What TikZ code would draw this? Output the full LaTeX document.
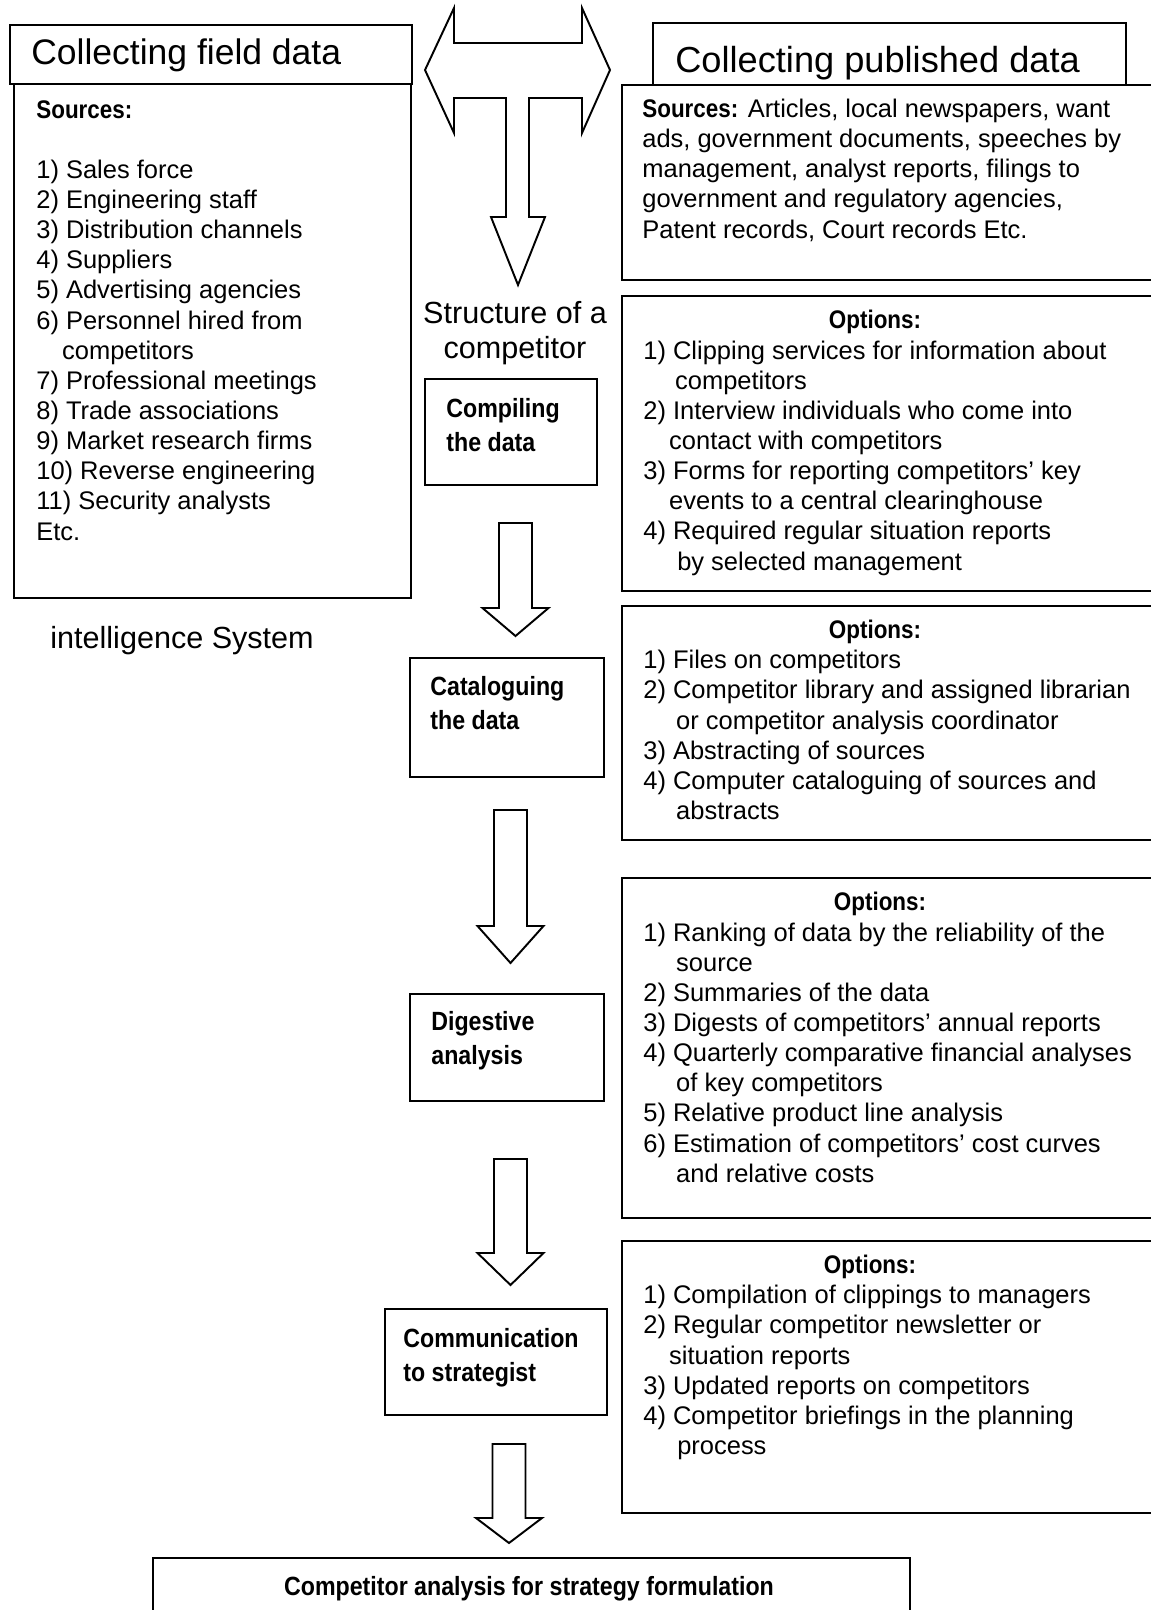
\documentclass[tikz,border=0pt]{standalone}
\usepackage{fontspec}
\setmainfont{Liberation Sans}
\newfontfamily\condfont[FakeStretch=0.88]{Liberation Sans}
\usetikzlibrary{fit}

\begin{document}
\begin{tikzpicture}[x=0.2mm,y=-0.2mm]
\tikzset{
  box/.style={draw,line width=1.1pt,inner sep=0pt},
  listtext/.style={anchor=base west,align=left,inner sep=0pt,font=\fontsize{14.5}{17.15}\selectfont},
  headtext/.style={anchor=base west,inner sep=0pt,font=\fontsize{20.2}{24}\selectfont},
  midtext/.style={anchor=base,align=center,inner sep=0pt,font=\fontsize{17.4}{19.8}\selectfont},
  steptext/.style={anchor=base west,align=left,inner sep=0pt,font=\condfont\bfseries\fontsize{15}{19.3}\selectfont},
  opttitle/.style={anchor=base,inner sep=0pt,font=\condfont\bfseries\fontsize{14.5}{17.15}\selectfont},
  blockarrow/.style={draw,line width=1.1pt,line join=miter,fill=white}
}
\useasboundingbox (0,0) rectangle (1150,1610);
% field data column (multi-line texts sit on their last baseline)
\node[box,fit={(10,25) (412,84)}] (fieldhead) {};
\node[box,fit={(14,84) (411,598)}] (fieldbox) {};
\node[headtext] (fieldtitle) at (31,65) {Collecting field data};
\node[listtext] (fieldlist) at (36,540) {{\condfont\bfseries Sources:}\\[17.15pt]
1) Sales force\\
2) Engineering staff\\
3) Distribution channels\\
4) Suppliers\\
5) Advertising agencies\\
6) Personnel hired from\\
\hspace*{14.7pt}competitors\\
7) Professional meetings\\
8) Trade associations\\
9) Market research firms\\
10) Reverse engineering\\
11) Security analysts\\
Etc.};
\node[midtext,anchor=base west] (intel) at (50,648) {intelligence System};
% published data column
\node[box,fit={(653,23) (1126,85)}] (pubhead) {};
\node[box,fit={(622,85) (1160,280)}] (pubbox) {};
\node[headtext,font=\fontsize{20.6}{24}\selectfont] (pubtitle) at (675,73) {Collecting published data};
\node[listtext] (publist) at (642,238) {{\condfont\bfseries Sources:} Articles, local newspapers, want\\
ads, government documents, speeches by\\
management, analyst reports, filings to\\
government and regulatory agencies,\\
Patent records, Court records Etc.};
% options
\node[box,fit={(622,296) (1160,591)}] (opt1) {};
\node[opttitle] (opt1title) at (875,328) {Options:};
\node[listtext] (opt1list) at (643,570) {1) Clipping services for information about\\
\hspace*{18.1pt}competitors\\
2) Interview individuals who come into\\
\hspace*{14.7pt}contact with competitors\\
3) Forms for reporting competitors’ key\\
\hspace*{14.7pt}events to a central clearinghouse\\
4) Required regular situation reports\\
\hspace*{19.3pt}by selected management};
\node[box,fit={(622,606) (1160,840)}] (opt2) {};
\node[opttitle] (opt2title) at (875,638) {Options:};
\node[listtext] (opt2list) at (643,819.5) {1) Files on competitors\\
2) Competitor library and assigned librarian\\
\hspace*{18.7pt}or competitor analysis coordinator\\
3) Abstracting of sources\\
4) Computer cataloguing of sources and\\
\hspace*{18.7pt}abstracts};
\node[box,fit={(622,878) (1160,1218)}] (opt3) {};
\node[opttitle] (opt3title) at (880,910) {Options:};
\node[listtext] (opt3list) at (643,1182.25) {1) Ranking of data by the reliability of the\\
\hspace*{18.7pt}source\\
2) Summaries of the data\\
3) Digests of competitors’ annual reports\\
4) Quarterly comparative financial analyses\\
\hspace*{18.7pt}of key competitors\\
5) Relative product line analysis\\
6) Estimation of competitors’ cost curves\\
\hspace*{18.7pt}and relative costs};
\node[box,fit={(622,1241) (1160,1513)}] (opt4) {};
\node[opttitle] (opt4title) at (870,1273) {Options:};
\node[listtext] (opt4list) at (643,1454.5) {1) Compilation of clippings to managers\\
2) Regular competitor newsletter or\\
\hspace*{14.7pt}situation reports\\
3) Updated reports on competitors\\
4) Competitor briefings in the planning\\
\hspace*{19.3pt}process};
% middle steps
\node[midtext] (structure) at (515,358) {Structure of a\\competitor};
\node[box,fit={(425,379) (597,485)}] (compile) {};
\node[steptext] (compiletext) at (446,451) {Compiling\\the data};
\node[box,fit={(410,658) (604,777)}] (catalog) {};
\node[steptext] (catalogtext) at (430,729) {Cataloguing\\the data};
\node[box,fit={(410,994) (604,1101)}] (digest) {};
\node[steptext] (digesttext) at (431,1064) {Digestive\\analysis};
\node[box,fit={(385,1309) (607,1415)}] (commun) {};
\node[steptext] (communtext) at (403,1381) {Communication\\to strategist};
\node[box,fit={(153,1558) (910,1640)}] (final) {};
\node[anchor=base,inner sep=0pt,font=\condfont\bfseries\fontsize{15}{18}\selectfont] (finaltext) at (529,1595) {Competitor analysis for strategy formulation};
% T-shaped arrow
\draw[blockarrow] (425,70) -- (454,8) -- (454,43) -- (582,43) -- (582,8) -- (610,70)
  -- (582,133) -- (582,98) -- (529,98) -- (529,217) -- (545,217) -- (518,285)
  -- (491,217) -- (506,217) -- (506,98) -- (454,98) -- (454,133) -- cycle;
% block arrows between steps
\foreach \cx/\ytop/\ybase/\ytip in {515.5/523/608/636,510.5/810/926/963,510.5/1159/1253/1285,509/1444/1518/1543}
  \draw[blockarrow] (\cx-16.5,\ytop) -- (\cx+16.5,\ytop) -- (\cx+16.5,\ybase) -- (\cx+33,\ybase)
    -- (\cx,\ytip) -- (\cx-33,\ybase) -- (\cx-16.5,\ybase) -- cycle;
\end{tikzpicture}
\end{document}
